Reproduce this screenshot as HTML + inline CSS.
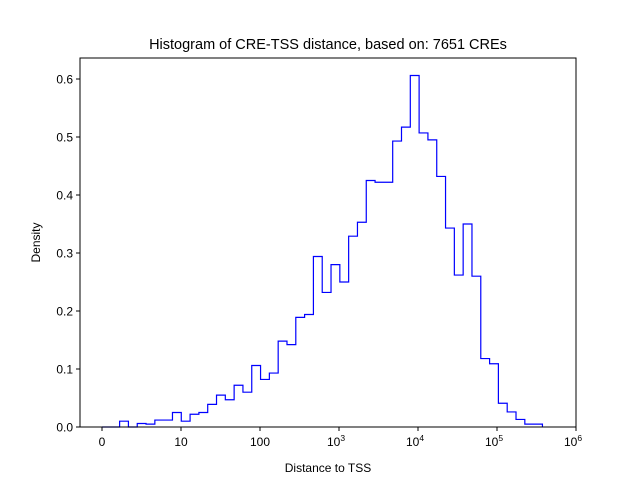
<!DOCTYPE html>
<html><head><meta charset="utf-8"><style>
body{margin:0;background:#fff;}
svg{display:block;font-family:"Liberation Sans","DejaVu Sans",sans-serif;}
</style></head><body>
<svg id="chart" width="640" height="480" viewBox="0 0 640 480">
<rect width="640" height="480" fill="#fff"/>
<text x="328" y="49" font-size="14.5" text-anchor="middle">Histogram of CRE-TSS distance, based on: 7651 CREs</text>
<g id="yt"></g>
<g id="xt"></g>
<path id="hist" fill="none" stroke="#0000ff" stroke-width="1.2"/>
<rect x="80" y="58" width="496" height="369" fill="none" stroke="#000" stroke-width="1"/>
<text x="328" y="472" font-size="12" text-anchor="middle">Distance to TSS</text>
<text transform="translate(40,242.5) rotate(-90)" font-size="12" text-anchor="middle">Density</text>
</svg>
<script>
const densities = [0,0,0.010,0,0.006,0.005,0.012,0.012,0.025,0.010,0.022,0.025,0.039,0.055,0.047,0.072,0.060,0.106,0.082,0.093,0.148,0.142,0.189,0.194,0.294,0.232,0.280,0.250,0.329,0.353,0.425,0.422,0.422,0.493,0.517,0.606,0.507,0.495,0.432,0.343,0.262,0.350,0.260,0.118,0.109,0.041,0.026,0.013,0.005,0.005];
const binRange = [0, 376000];
const xTickValues = [0,10,100,1000,10000,100000,1000000];
const xTickBase = ["0","10","100","10","10","10","10"];
const xTickExp = ["","","","3","4","5","6"];
const yTickValues = [0,0.1,0.2,0.3,0.4,0.5,0.6];
const yTickLabels = ["0.0","0.1","0.2","0.3","0.4","0.5","0.6"];

const NS="http://www.w3.org/2000/svg";
function tr(v){return v<10? v/10 : Math.log10(v);}
function itr(t){return t<1? t*10 : Math.pow(10,t);}
function xs(v){return 102+79*tr(v);}
function ys(v){return 427-580*v;}

const yt=document.getElementById('yt');
yTickValues.forEach((v,i)=>{
  const y=ys(v);
  const l=document.createElementNS(NS,'line');
  l.setAttribute('x1',76);l.setAttribute('x2',80);l.setAttribute('y1',y);l.setAttribute('y2',y);l.setAttribute('stroke','#000');
  
  
  yt.appendChild(l);
  const t=document.createElementNS(NS,'text');
  t.setAttribute('x',73);t.setAttribute('y',y+4.5);t.setAttribute('font-size','12');t.setAttribute('text-anchor','end');
  t.textContent=yTickLabels[i];
  
  
  yt.appendChild(t);
});
const xt=document.getElementById('xt');
xTickValues.forEach((v,i)=>{
  const x=xs(v);
  const l=document.createElementNS(NS,'line');
  l.setAttribute('x1',x);l.setAttribute('x2',x);l.setAttribute('y1',427);l.setAttribute('y2',431);l.setAttribute('stroke','#000');
  
  
  xt.appendChild(l);
  const t=document.createElementNS(NS,'text');
  t.setAttribute('y',446);t.setAttribute('font-size','12');
  
  
  if(xTickExp[i]){
    t.setAttribute('x',x-3);t.setAttribute('text-anchor','middle');
    t.appendChild(document.createTextNode(xTickBase[i]));
    const s=document.createElementNS(NS,'tspan');
    s.setAttribute('font-size','8.5');s.setAttribute('dy','-5');
    s.textContent=xTickExp[i];
    t.appendChild(s);
  } else {
    t.setAttribute('x',x);t.setAttribute('text-anchor','middle');
    t.textContent=xTickBase[i];
  }
  xt.appendChild(t);
});
const n=densities.length;
const t0=tr(binRange[0]), t1=tr(binRange[1]);
let d='';
for(let k=0;k<n;k++){
  const a=xs(itr(t0+(t1-t0)*k/n)), b=xs(itr(t0+(t1-t0)*(k+1)/n)), y=ys(densities[k]);
  d+=(k===0?'M'+a+','+ys(0)+' L'+a+','+y:' L'+a+','+y)+' L'+b+','+y;
}
d+=' L'+xs(binRange[1])+','+ys(0);
document.getElementById('hist').setAttribute('d',d);
</script>
</body></html>
